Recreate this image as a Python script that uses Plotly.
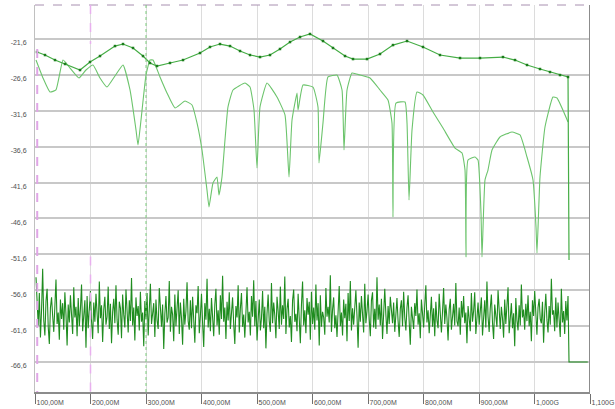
import numpy as np
import plotly.graph_objects as go

# ---- data (frequency in MHz, level in dB) ----
upper_mhz = [103.6, 118.0, 136.0, 154.1, 181.1, 199.1, 217.1, 244.1, 258.6, 276.6, 294.6,
             307.2, 319.8, 343.2, 366.7, 397.3, 415.3, 433.3, 451.4, 469.4, 487.4, 505.4,
             523.4, 541.4, 559.5, 577.5, 595.5, 618.9, 636.9, 658.6, 673.0, 698.2, 721.6,
             745.0, 770.3, 799.1, 829.7, 865.8, 901.8, 943.2, 964.9, 986.5, 1009.9, 1027.9,
             1045.9, 1060.4, 1062.2]
upper_db = [-23.41, -23.83, -24.53, -25.08, -25.92, -24.80, -23.97, -22.58, -22.30, -22.85, -23.97,
            -24.94, -25.36, -24.94, -24.53, -23.55, -22.71, -22.30, -22.58, -23.27, -23.83, -24.11,
            -23.83, -22.99, -22.02, -21.32, -20.90, -21.88, -22.85, -23.97, -24.39, -24.39, -23.69,
            -22.44, -21.88, -22.71, -23.83, -24.25, -24.25, -24.11, -24.53, -25.22, -25.78, -26.20,
            -26.62, -26.89, -52.39]

notch_mhz = [101.8, 114.4, 127.0, 137.8, 150.5, 163.1, 179.3, 191.9, 204.5, 217.1, 229.7, 244.1,
             258.6, 271.2, 282.0, 285.6, 291.0, 300.0, 307.2, 312.6, 325.2, 337.8, 352.3, 370.3,
             382.9, 391.9, 400.9, 409.9, 413.5, 420.7, 427.9, 431.5, 436.9, 442.3, 447.7, 456.8,
             478.4, 487.4, 494.6, 500.0, 505.4, 518.0, 536.0, 550.5, 557.7, 563.1, 572.1, 573.9,
             582.9, 600.9, 609.9, 611.7, 618.9, 627.9, 644.1, 653.2, 656.8, 662.2, 671.2, 685.6,
             703.6, 721.6, 736.0, 743.2, 745.0, 750.4, 766.7, 770.3, 773.9, 779.3, 788.3, 799.1,
             817.1, 835.1, 856.8, 869.4, 874.8, 876.6, 880.2, 892.8, 898.2, 903.6, 905.4, 910.8,
             916.2, 923.4, 937.8, 959.5, 973.9, 986.5, 997.3, 1002.7, 1004.5, 1009.9, 1018.9,
             1033.3, 1040.5, 1060.4]
notch_db = [-24.53, -27.03, -28.98, -28.70, -24.53, -25.64, -27.03, -25.92, -25.22, -27.03, -28.29, -26.75,
            -25.22, -28.70, -34.28, -36.37, -32.88, -26.62, -24.53, -24.53, -26.89, -29.12, -31.21, -30.24,
            -30.79, -33.30, -37.06, -42.64, -44.99, -41.66, -40.83, -43.33, -40.83, -35.67, -31.07, -28.70,
            -27.73, -28.29, -31.49, -39.57, -31.07, -27.73, -29.68, -32.19, -40.83, -32.88, -29.12, -31.49,
            -28.01, -28.29, -31.07, -38.87, -33.30, -26.89, -26.62, -28.70, -37.06, -28.70, -26.34, -26.62,
            -27.03, -28.70, -30.10, -33.30, -46.40, -30.52, -30.38, -33.30, -44.03, -34.28, -28.98, -29.40,
            -31.77, -34.00, -36.79, -37.48, -39.85, -51.97, -38.46, -38.04, -38.46, -45.84, -51.97, -41.24,
            -39.85, -37.06, -35.25, -34.56, -34.97, -38.04, -41.24, -47.79, -51.41, -40.83, -33.86,
            -29.68, -29.82, -33.16]

noise_start_mhz = 101.8
noise_stop_mhz = 1060.4
noise_db = [
    -54.8, -58.2, -61.5, -57.0, -63.2, -59.4, -53.6, -60.8, -62.9, -58.1, -56.4, -61.7, -64.1, -59.0, -57.6, -60.2, -62.4, -58.8, -55.1, -61.3,
    -59.7, -63.5, -57.9, -60.6, -58.4, -62.1, -56.9, -60.0, -64.3, -58.6, -61.1, -57.3, -59.9, -62.7, -56.2, -60.4, -58.9, -63.0, -57.7, -61.6,
    -59.2, -55.8, -62.3, -60.1, -58.0, -64.6, -57.4, -61.9, -59.5, -56.7, -60.9, -63.4, -58.3, -61.0, -57.1, -59.8, -62.6, -55.4, -60.5, -58.7,
    -63.8, -59.3, -57.5, -61.4, -60.3, -56.1, -62.0, -58.5, -64.0, -59.6, -57.8, -61.2, -55.9, -60.7, -62.8, -58.2, -59.1, -63.3, -57.2, -60.0,
    -61.8, -56.5, -59.4, -62.5, -58.0, -60.9, -54.9, -61.5, -59.0, -63.6, -57.6, -60.2, -58.8, -62.2, -56.8, -61.0, -59.7, -64.4, -58.1, -60.6,
    -57.0, -62.9, -59.3, -55.7, -61.3, -60.1, -58.4, -63.1, -57.9, -60.8, -62.0, -56.3, -59.6, -61.7, -58.6, -64.8, -59.9, -57.4, -61.1, -60.4,
    -55.3, -62.4, -58.9, -60.0, -63.7, -57.2, -61.6, -59.1, -56.6, -62.7, -58.3, -60.5, -64.2, -57.8, -61.4, -59.5, -55.5, -60.9, -62.1, -58.0,
    -61.9, -57.5, -60.3, -63.9, -58.7, -59.8, -56.0, -62.6, -60.2, -57.1, -61.2, -64.5, -58.4, -60.7, -55.0, -61.8, -59.2, -62.3, -57.7, -60.1,
    -63.0, -58.6, -56.4, -61.5, -59.4, -62.8, -57.3, -60.6, -54.6, -61.0, -59.0, -63.4, -58.2, -60.8, -56.9, -62.0, -59.7, -57.6, -61.3, -64.1,
    -58.8, -60.4, -55.9, -62.5, -59.1, -57.0, -61.7, -60.0, -63.2, -58.5, -56.2, -61.1, -59.6, -62.9, -57.4, -60.3, -55.2, -61.6, -58.1, -63.6,
    -59.3, -57.9, -62.2, -60.5, -56.7, -61.9, -58.9, -64.7, -59.8, -57.2, -60.9, -62.4, -55.6, -61.2, -58.3, -60.1, -63.3, -57.5, -59.5, -62.0,
    -56.1, -61.4, -58.7, -60.6, -54.7, -62.7, -59.2, -57.8, -61.8, -60.2, -63.8, -58.0, -56.5, -61.0, -59.9, -62.3, -57.1, -60.7, -64.0, -58.6,
    -55.4, -61.5, -59.4, -62.6, -57.7, -60.0, -58.2, -63.5, -56.8, -61.3, -59.0, -62.1, -55.8, -60.8, -58.4, -64.3, -57.3, -61.7, -59.6, -60.4,
    -62.8, -56.3, -60.3, -58.9, -61.1, -54.5, -62.4, -59.3, -57.6, -61.9, -60.1, -63.1, -58.1, -56.0, -61.6, -59.7, -62.9, -57.9, -60.5, -58.5,
    -63.7, -57.0, -60.9, -55.3, -62.2, -59.1, -61.4, -58.7, -56.6, -60.2, -64.6, -58.3, -61.0, -57.4, -59.8, -62.5, -55.7, -61.2, -59.5, -57.2,
    -60.6, -63.0, -58.0, -56.9, -61.8, -59.2, -62.0, -54.8, -60.7, -58.6, -61.5, -57.8, -63.4, -59.9, -56.4, -60.0, -62.7, -58.8, -61.3, -57.5,
    -59.6, -61.2, -58.3, -62.4, -60.0, -57.7, -60.9, -63.1, -59.2, -58.0, -61.6, -56.8, -60.4, -62.2, -59.0, -57.3, -61.0, -64.2, -58.9, -60.7,
    -62.0, -58.4, -60.2, -56.5, -61.4, -59.8, -63.3, -57.9, -60.6, -61.8, -58.7, -55.9, -61.1, -59.4, -62.6, -60.3, -57.5, -61.7, -59.1, -63.0,
    -58.2, -60.8, -61.9, -57.1, -60.1, -62.5, -59.6, -56.3, -61.3, -58.6, -60.5, -63.6, -59.3, -57.8, -62.1, -60.0, -58.5, -61.5, -55.6, -60.9,
    -61.6, -59.0, -62.8, -58.1, -60.4, -57.4, -61.2, -59.7, -64.0, -58.8, -60.6, -62.3, -57.0, -61.0, -59.5, -56.9, -62.7, -60.2, -58.3, -61.4,
    -59.9, -57.6, -62.9, -60.7, -58.0, -61.8, -55.4, -60.3, -62.4, -59.1, -57.2, -61.1, -63.4, -58.6, -60.0, -61.7, -56.6, -59.4, -62.0, -58.9,
    -60.5, -63.2, -57.9, -61.3, -59.2, -56.2, -62.6, -60.1, -58.4, -61.9, -59.8, -64.4, -57.7, -60.8, -62.2, -58.7, -61.5, -55.8, -60.4, -59.3,
    -62.1, -58.5, -60.9, -57.3, -61.6, -59.6, -63.7, -58.0, -60.2, -56.7, -61.0, -62.8, -59.0, -57.8, -60.6, -61.2, -58.2, -63.9, -59.7, -57.1,
    -60.7, -62.5, -58.8, -61.4, -55.0, -60.0, -59.4, -62.3, -57.6, -61.8, -58.3, -60.3, -63.1, -56.4, -61.1, -59.5, -62.7, -58.1, -60.8, -57.4,
]
noise_tail_mhz = [1062.2, 1096.0]
noise_tail_db = [-66.6, -66.6]

x_tick_vals = [100, 200, 300, 400, 500, 600, 700, 800, 900, 1000, 1100]
x_tick_text = ["100,00M", "200,00M", "300,00M", "400,00M", "500,00M", "600,00M",
               "700,00M", "800,00M", "900,00M", "1,000G", "1,100G"]
y_tick_vals = [-21.6, -26.6, -31.6, -36.6, -41.6, -46.6, -51.6, -56.6, -61.6, -66.6]
y_tick_text = ["-21,6", "-26,6", "-31,6", "-36,6", "-41,6", "-46,6", "-51,6", "-56,6", "-61,6", "-66,6"]

# ---- figure ----
noise_mhz = list(np.linspace(noise_start_mhz, noise_stop_mhz, len(noise_db))) + noise_tail_mhz
noise_all = noise_db + noise_tail_db

fig = go.Figure()
fig.add_trace(go.Scatter(x=noise_mhz, y=noise_all, mode="lines",
                         line=dict(color="#1f8c1f", width=1.1), hoverinfo="skip"))
fig.add_trace(go.Scatter(x=notch_mhz, y=notch_db, mode="lines",
                         line=dict(color="#6cc46c", width=1.1, shape="spline", smoothing=0.4),
                         hoverinfo="skip"))
fig.add_trace(go.Scatter(x=upper_mhz, y=upper_db, mode="lines",
                         line=dict(color="#45ad45", width=1.2), hoverinfo="skip"))
fig.add_trace(go.Scatter(x=upper_mhz[:-1], y=upper_db[:-1], mode="markers",
                         marker=dict(color="#1c7c1c", size=2.5, symbol="square"),
                         hoverinfo="skip"))

shapes = [
    # right border
    dict(type="line", xref="x", yref="paper", x0=1100, x1=1100, y0=0, y1=1,
         line=dict(color="#8c8c8c", width=2)),
    # top dashed border
    dict(type="line", xref="paper", yref="paper", x0=0, x1=1, y0=1, y1=1,
         line=dict(color="#a890b0", width=1, dash="dash")),
    # pink marker lines
    dict(type="line", xref="x", yref="y", x0=104, x1=104, y0=-23.0, y1=-70.78,
         line=dict(color="#e0a6e6", width=2, dash="dash")),
    dict(type="line", xref="x", yref="y", x0=200, x1=200, y0=-16.86, y1=-22.3,
         line=dict(color="#e8b0ee", width=1.5, dash="dash")),
    dict(type="line", xref="x", yref="y", x0=200, x1=200, y0=-51.9, y1=-70.78,
         line=dict(color="#e8b0ee", width=1.5, dash="dash")),
    # green dotted marker line
    dict(type="line", xref="x", yref="paper", x0=300, x1=300, y0=0, y1=1,
         line=dict(color="#7ccc7c", width=1, dash="dot")),
]

fig.update_layout(
    width=615, height=409,
    margin=dict(l=35, r=25, t=5, b=17),
    plot_bgcolor="white", paper_bgcolor="white",
    showlegend=False,
    shapes=shapes,
    font=dict(family="Liberation Sans", size=7, color="#505050"),
)
fig.update_xaxes(
    range=[100, 1100], tickvals=x_tick_vals, ticktext=x_tick_text,
    ticks="outside", ticklen=10, tickcolor="#707070", tickwidth=1,
    ticklabelposition="outside right", ticklabelstandoff=3,
    ticklabeloverflow="allow",
    tickfont=dict(size=7, color="#505050"), automargin=False,
    showgrid=True, gridcolor="#dcdcdc", gridwidth=1,
    showline=True, linecolor="#8c8c8c", linewidth=2, zeroline=False,
)
fig.update_yaxes(
    range=[-70.78, -16.86], tickvals=y_tick_vals, ticktext=y_tick_text,
    ticks="", ticklabelstandoff=6, ticklabelshift=4,
    tickfont=dict(size=7, color="#505050"), automargin=False,
    showgrid=True, gridcolor="#c8c8c8", gridwidth=1.5,
    showline=True, linecolor="#c0c0c0", linewidth=1, zeroline=False,
)

fig.write_html("out.html", config={"displayModeBar": False},
               post_script="document.body.style.margin='0';")
